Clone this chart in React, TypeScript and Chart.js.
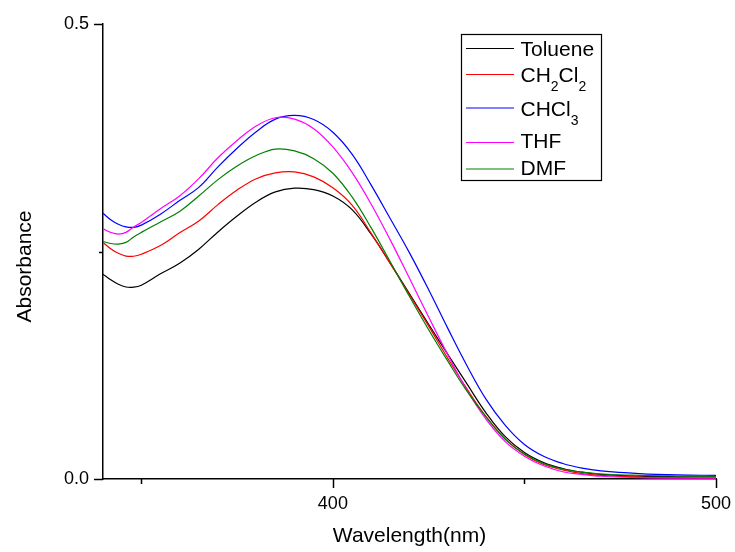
import React, { useEffect, useRef } from "react";
import { Chart, registerables } from "chart.js";

Chart.register(...registerables);

const FONT = "'Liberation Sans', Arial, Helvetica, sans-serif";

const WAVELENGTHS = [
  340, 342, 344, 346, 348, 350, 355, 360, 365, 370, 375, 380, 385, 390, 395, 400, 405, 410, 415, 420,
  425, 430, 435, 440, 445, 450, 455, 460, 465, 470, 480, 490, 500,
];

const TOLUENE = [
  0.225, 0.219, 0.214, 0.211, 0.2108, 0.213, 0.2255, 0.237, 0.2525, 0.2715, 0.289, 0.3045, 0.3155, 0.3196,
  0.318, 0.311, 0.296, 0.269, 0.237, 0.2035, 0.17, 0.137, 0.1045, 0.0725, 0.0465, 0.029, 0.018, 0.0115,
  0.0075, 0.005, 0.003, 0.0025, 0.0025,
];

const CH2CL2 = [
  0.26, 0.253, 0.248, 0.245, 0.2448, 0.247, 0.2565, 0.2705, 0.2835, 0.3015, 0.3175, 0.33, 0.3365, 0.3375,
  0.332, 0.32, 0.301, 0.27, 0.2365, 0.2025, 0.168, 0.1325, 0.099, 0.0685, 0.044, 0.027, 0.016, 0.01,
  0.006, 0.004, 0.002, 0.0015, 0.0012,
];

const CHCL3 = [
  0.292, 0.285, 0.28, 0.277, 0.2766, 0.279, 0.291, 0.306, 0.3205, 0.343, 0.3635, 0.3817, 0.3955, 0.3995,
  0.395, 0.381, 0.357, 0.323, 0.286, 0.2485, 0.208, 0.1655, 0.1245, 0.0875, 0.059, 0.038, 0.025, 0.017,
  0.012, 0.009, 0.006, 0.0045, 0.004,
];

const THF = [
  0.275, 0.271, 0.2692, 0.271, 0.277, 0.282, 0.297, 0.311, 0.33, 0.353, 0.372, 0.388, 0.397, 0.3955,
  0.385, 0.365, 0.337, 0.302, 0.2625, 0.2205, 0.178, 0.1365, 0.0975, 0.0655, 0.041, 0.025, 0.0145, 0.008,
  0.005, 0.003, 0.0015, 0.001, 0.001,
];

const DMF = [
  0.261, 0.2588, 0.2582, 0.26, 0.266, 0.271, 0.2825, 0.294, 0.311, 0.329, 0.344, 0.3555, 0.3626, 0.3605,
  0.352, 0.336, 0.31, 0.276, 0.2385, 0.2005, 0.164, 0.1295, 0.0965, 0.068, 0.0435, 0.0275, 0.017, 0.011,
  0.0075, 0.0055, 0.004, 0.0033, 0.003,
];

const SERIES_NAMES = ["Toluene", "CH2Cl2", "CHCl3", "THF", "DMF"];
const SERIES_COLORS = ["#000000", "#ff0000", "#0000ff", "#ff00ff", "#008000"];
const SERIES_VALUES = [TOLUENE, CH2CL2, CHCL3, THF, DMF];

// legend label pieces (text, subscript?)
const LEGEND_PARTS: [string, boolean][][] = [
  [["Toluene", false]],
  [["CH", false], ["2", true], ["Cl", false], ["2", true]],
  [["CHCl", false], ["3", true]],
  [["THF", false]],
  [["DMF", false]],
];

const X_MIN = 340;
const X_MAX = 500;
const X_TICKS = [350, 400, 450, 500];
const X_LABELED = [400, 500];
const Y_MIN = 0;
const Y_MAX = 0.5;
const Y_TICKS = [0, 0.25, 0.5];
const Y_LABELS: Record<string, string> = { "0": "0.0", "0.5": "0.5" };

const X_TITLE = "Wavelength(nm)";
const Y_TITLE = "Absorbance";

const decorPlugin = {
  id: "decor",
  afterDraw(chart: any) {
    const ctx = chart.ctx as CanvasRenderingContext2D;
    const xs = chart.scales.x;
    const ys = chart.scales.y;
    const area = chart.chartArea;
    ctx.save();
    ctx.strokeStyle = "#000";
    ctx.lineWidth = 1.5;
    // x ticks
    X_TICKS.forEach((v) => {
      const px = Math.round(xs.getPixelForValue(v)) + 0.5;
      const len = X_LABELED.includes(v) ? 9 : 5;
      ctx.beginPath();
      ctx.moveTo(px, area.bottom);
      ctx.lineTo(px, area.bottom + len);
      ctx.stroke();
    });
    // y ticks
    Y_TICKS.forEach((v) => {
      const py = Math.round(ys.getPixelForValue(v)) + 0.5;
      const len = Y_LABELS[String(v)] ? 9 : 4;
      ctx.beginPath();
      ctx.moveTo(area.left - len, py);
      ctx.lineTo(area.left, py);
      ctx.stroke();
    });

    // axis titles
    ctx.fillStyle = "#000";
    ctx.font = `21px ${FONT}`;
    ctx.textAlign = "center";
    ctx.textBaseline = "alphabetic";
    ctx.fillText(X_TITLE, (area.left + area.right) / 2, 542);
    ctx.save();
    ctx.translate(31, 266.5);
    ctx.rotate(-Math.PI / 2);
    ctx.fillText(Y_TITLE, 0, 0);
    ctx.restore();

    // legend
    const boxL = 461.5, boxT = 34.5, boxW = 140, boxH = 146;
    ctx.lineWidth = 1.2;
    ctx.strokeStyle = "#000";
    ctx.strokeRect(boxL, boxT, boxW, boxH);
    const lineY = [48.5, 74.5, 108, 142.5, 169];
    const baseY = [56, 82.3, 115.7, 148.3, 175];
    ctx.textAlign = "left";
    SERIES_NAMES.forEach((_, i) => {
      ctx.strokeStyle = SERIES_COLORS[i];
      ctx.lineWidth = 1.2;
      ctx.beginPath();
      ctx.moveTo(466, lineY[i]);
      ctx.lineTo(514, lineY[i]);
      ctx.stroke();
      let x = 520.5;
      LEGEND_PARTS[i].forEach(([t, sub]) => {
        ctx.font = sub ? `14px ${FONT}` : `21px ${FONT}`;
        ctx.fillStyle = "#000";
        ctx.fillText(t, x, sub ? baseY[i] + 9 : baseY[i]);
        x += ctx.measureText(t).width;
      });
    });
    ctx.restore();
  },
};

export default function App() {
  const canvasRef = useRef<HTMLCanvasElement | null>(null);

  useEffect(() => {
    if (!canvasRef.current) return;
    const datasets = SERIES_NAMES.map((name, i) => ({
      label: name,
      data: WAVELENGTHS.map((w, j) => ({ x: w, y: SERIES_VALUES[i][j] })),
      borderColor: SERIES_COLORS[i],
      backgroundColor: SERIES_COLORS[i],
      borderWidth: 1.2,
      pointRadius: 0,
      fill: false,
      tension: 0.4,
      order: 4 - i,
    }));

    const chart = new Chart(canvasRef.current, {
      type: "line",
      data: { datasets },
      options: {
        animation: false,
        responsive: false,
        maintainAspectRatio: false,
        layout: { padding: { top: 24, right: 19, left: 0, bottom: 0 } },
        plugins: {
          legend: { display: false },
          tooltip: { enabled: false },
          title: { display: false },
        },
        scales: {
          x: {
            type: "linear",
            min: X_MIN,
            max: X_MAX,
            afterBuildTicks: (scale: any) => {
              scale.ticks = X_TICKS.map((v) => ({ value: v }));
            },
            afterFit: (scale: any) => {
              scale.height = 73;
              scale.paddingLeft = 0;
              scale.paddingRight = 0;
            },
            ticks: {
              color: "#000",
              font: { family: FONT, size: 18 },
              padding: 14,
              maxRotation: 0,
              autoSkip: false,
              callback: (v: any) => (X_LABELED.includes(Number(v)) ? String(v) : ""),
            },
            grid: { display: true, drawOnChartArea: false, drawTicks: false },
            border: { display: true, color: "#000", width: 1.5 },
          },
          y: {
            type: "linear",
            min: Y_MIN,
            max: Y_MAX,
            afterBuildTicks: (scale: any) => {
              scale.ticks = Y_TICKS.map((v) => ({ value: v }));
            },
            afterFit: (scale: any) => {
              scale.width = 103;
              scale.paddingTop = 0;
              scale.paddingBottom = 0;
            },
            ticks: {
              color: "#000",
              font: { family: FONT, size: 18 },
              padding: 14,
              autoSkip: false,
              callback: (v: any) => Y_LABELS[String(Number(v))] ?? "",
            },
            grid: { display: true, drawOnChartArea: false, drawTicks: false },
            border: { display: true, color: "#000", width: 1.5 },
          },
        },
      },
      plugins: [decorPlugin],
    });
    return () => chart.destroy();
  }, []);

  return (
    <div style={{ position: "fixed", left: 0, top: 0, width: 735, height: 552, background: "#fff" }}>
      <canvas ref={canvasRef} width={735} height={552} style={{ display: "block" }} />
    </div>
  );
}
